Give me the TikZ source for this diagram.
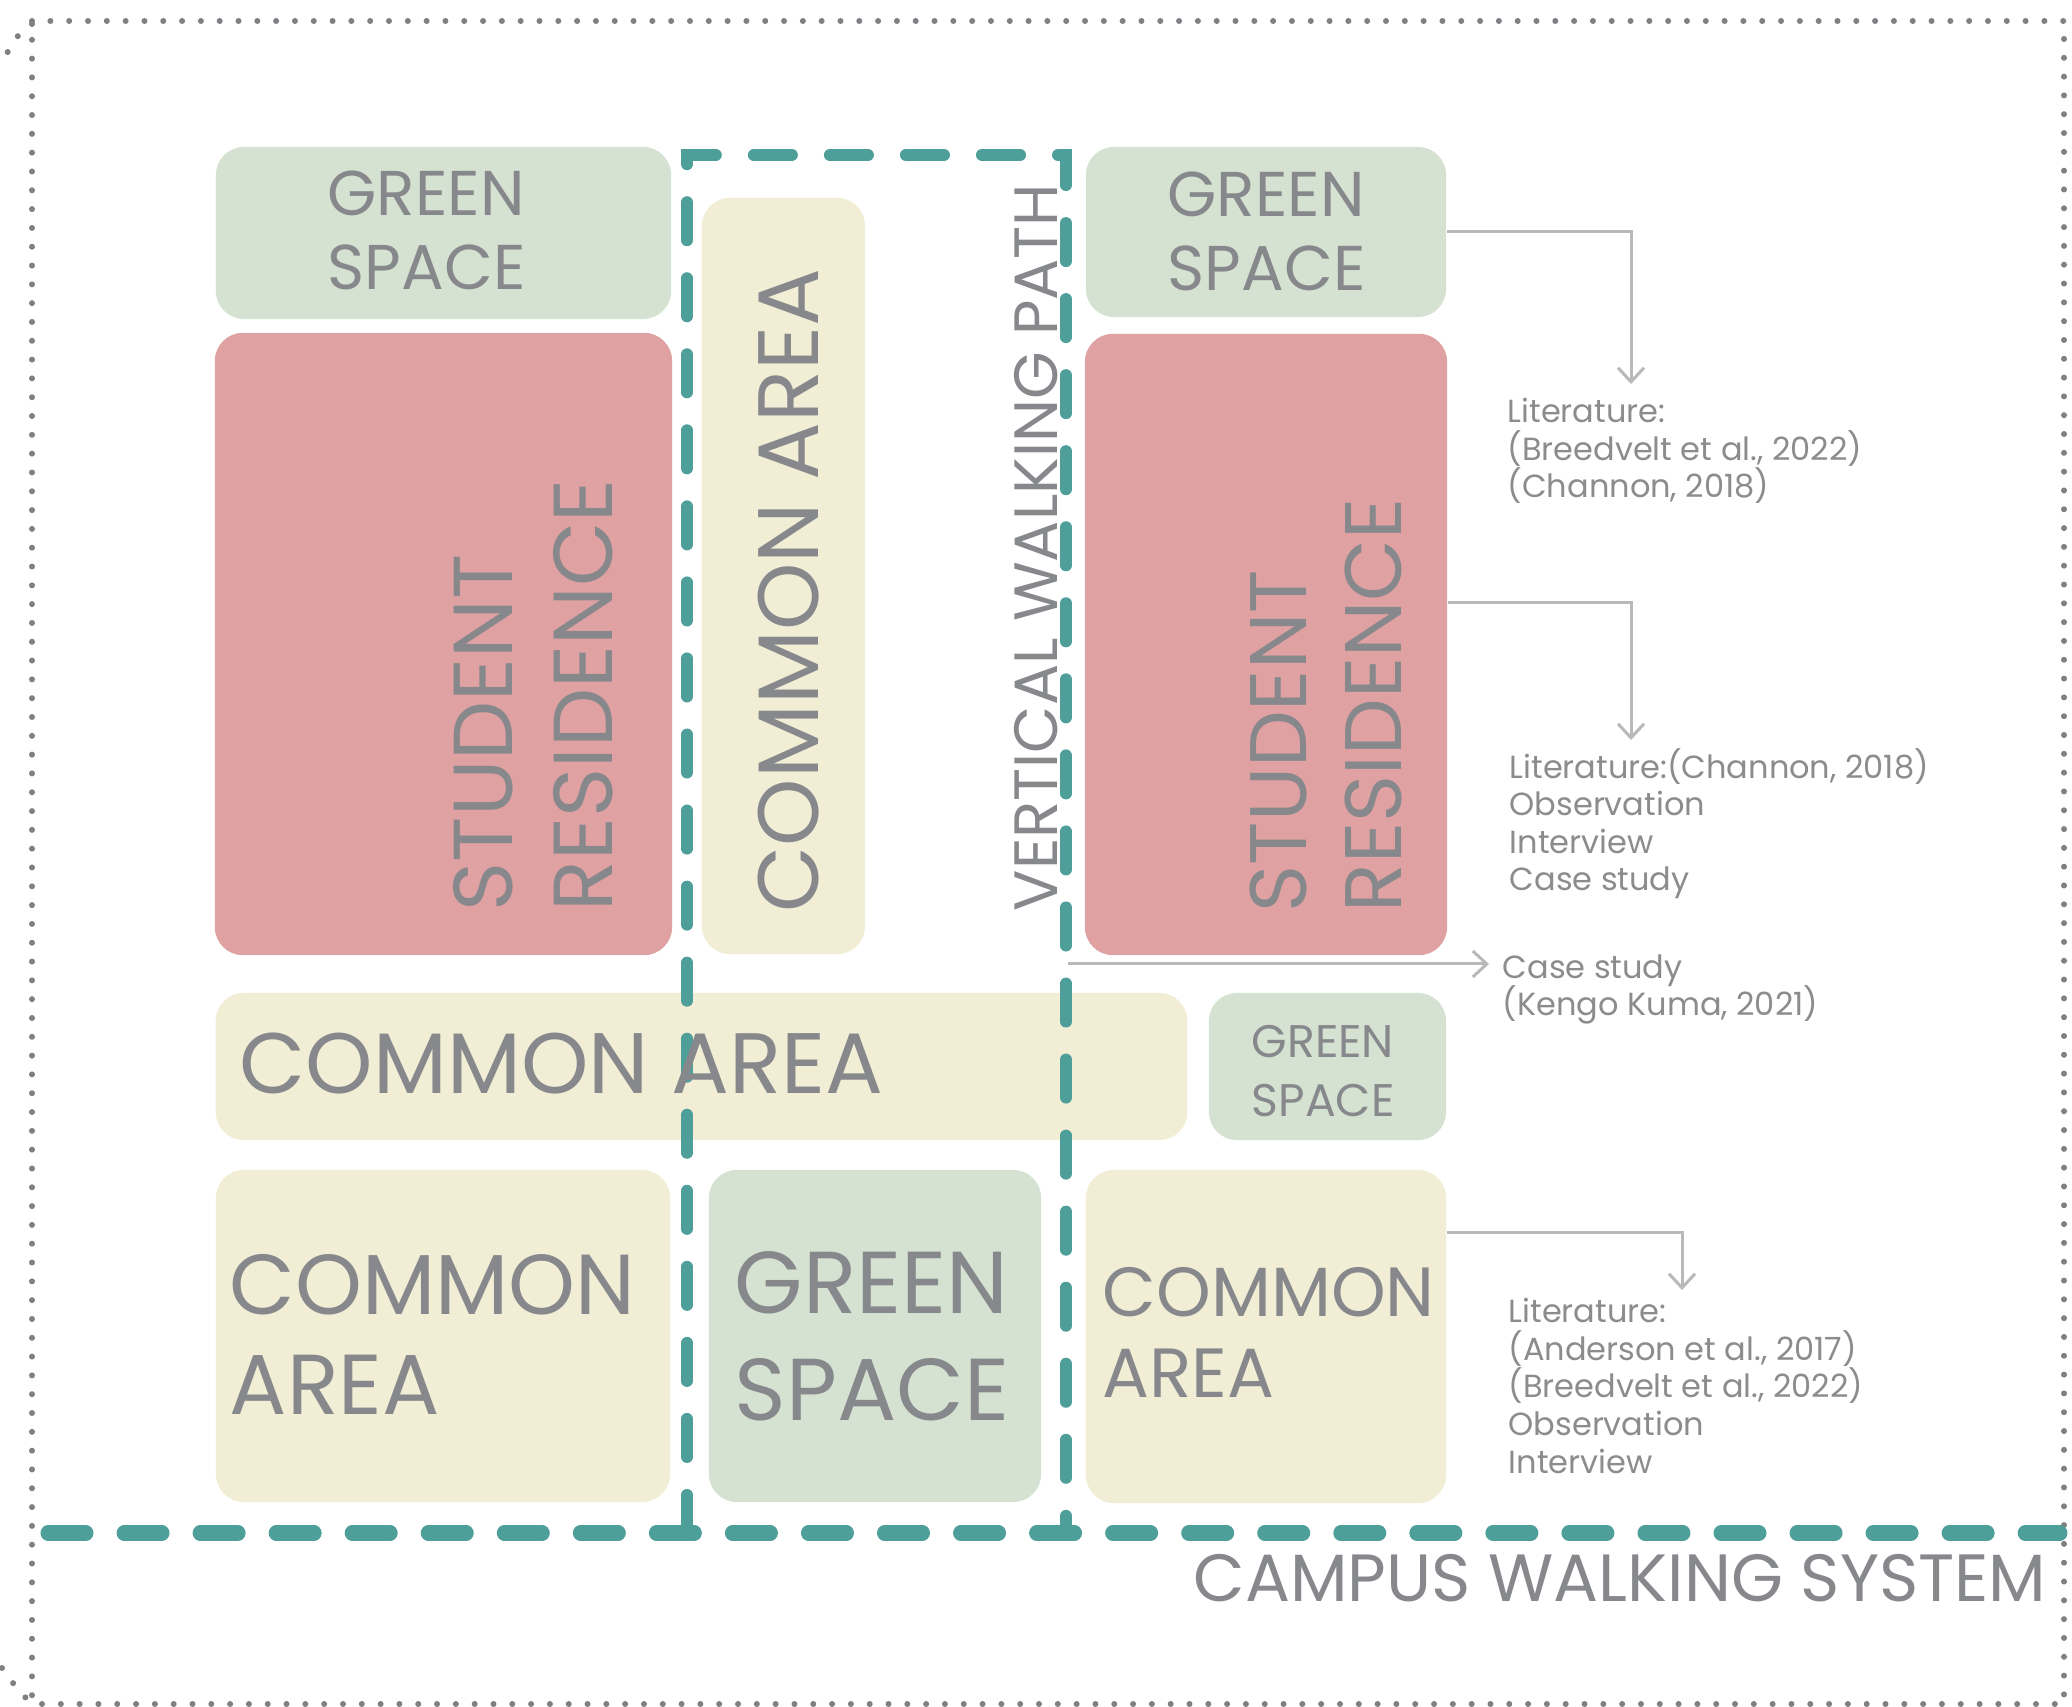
\documentclass[tikz,border=0pt]{standalone}
\usepackage{fontspec}
\setmainfont{Poppins}
\usetikzlibrary{positioning,arrows.meta,calc}
\definecolor{labelgray}{RGB}{135,136,140}
\definecolor{notegray}{RGB}{140,140,143}
\definecolor{framegray}{RGB}{128,128,132}
\definecolor{arrowgray}{RGB}{185,185,187}
\definecolor{pathteal}{RGB}{78,159,153}
\definecolor{greenfill}{RGB}{213,226,209}
\definecolor{residfill}{RGB}{223,161,162}
\definecolor{commonfill}{RGB}{242,237,213}
\newcommand{\notefont}{\fontsize{9.1}{10.67}\selectfont\lineskiplimit=-10pt\relax}

\tikzset{
  zone/.style={rectangle, rounded corners=0.28cm, inner sep=0pt},
  greenzone/.style={zone, fill=greenfill},
  residzone/.style={zone, fill=residfill},
  commonzone/.style={zone, fill=commonfill},
  zonetext/.style={text=labelgray, align=left, inner sep=0pt, anchor=base west},
  notetext/.style={text=notegray, align=left, inner sep=0pt, anchor=base west, font=\notefont},
  walkline/.style={pathteal, line cap=round, dash pattern=on 0.38cm off 0.38cm},
  linkarrow/.style={arrowgray, line width=0.03cm, -{Straight Barb[length=0.14cm,width=0.26cm]}},
  dotframe/.style={framegray, line width=0.06cm, line cap=round, dash pattern=on 0pt off 0.188cm}
}

\begin{document}
\begin{tikzpicture}[x=0.01cm, y=-0.01cm]
            \fill[white] (0,0) rectangle (2072,1707);
            \useasboundingbox (0,0) rectangle (2072,1707);

            % Campus frame
            \draw[dotframe] (32,21) rectangle (2064,1704);
            \draw[dotframe] (32,24) .. controls (18,34) .. (2,62);
            \draw[dotframe] (2,1668) .. controls (18,1690) .. (32,1704);

            % Left column
            \node[greenzone, minimum width=4.55cm, minimum height=1.72cm] (gsTL) at (443.5,233) {};
            \node[residzone, minimum width=4.57cm, minimum height=6.22cm] (rsL) at (443.5,644) {};
            \node[commonzone, minimum width=1.63cm, minimum height=7.56cm] (caM) at (783.5,576) {};

            % Right column
            \node[greenzone, minimum width=3.60cm, minimum height=1.70cm] (gsTR) at (1266,232) {};
            \node[residzone, minimum width=3.62cm, minimum height=6.21cm] (rsR) at (1266,644.5) {};

            % Middle band
            \node[commonzone, minimum width=9.71cm, minimum height=1.47cm] (caW) at (701.5,1066.5) {};
            \node[greenzone, minimum width=2.37cm, minimum height=1.47cm] (gsSR) at (1327.5,1066.5) {};

            % Bottom row
            \node[commonzone, minimum width=4.54cm, minimum height=3.32cm] (caBL) at (443,1336) {};
            \node[greenzone, minimum width=3.32cm, minimum height=3.32cm] (gsBM) at (875,1336) {};
            \node[commonzone, minimum width=3.60cm, minimum height=3.33cm] (caBR) at (1266,1336.5) {};

            % Walking paths
            \draw[walkline, line width=0.12cm] (687,1533) -- (687,155) -- (1066,155) -- (1066,1533);
            \draw[walkline, line width=0.15cm] (48,1533) -- (2060,1533);

            % Zone labels (anchored on the last line)
            \node[zonetext, font=\fontsize{18}{21.3}\selectfont] (gsTLtext) at (327,290) {GREEN\\SPACE};
            \node[zonetext, font=\fontsize{18}{21.3}\selectfont] (gsTRtext) at (1167,291) {GREEN\\SPACE};
            \node[zonetext, rotate=90, font=\fontsize{23.8}{28.4}\selectfont] (rsLtext) at (612,912) {STUDENT\\RESIDENCE};
            \node[zonetext, rotate=90, font=\fontsize{22.8}{27}\selectfont] (rsRtext) at (1401,913) {STUDENT\\RESIDENCE};
            \node[zonetext, rotate=90, font=\fontsize{24.4}{28.4}\selectfont] (caMtext) at (818,913) {COMMON AREA};
            \node[zonetext, rotate=90, font=\fontsize{17.4}{20}\selectfont] (pathtext) at (1057,912) {VERTICAL WALKING PATH};
            \node[zonetext, font=\fontsize{24.4}{28.4}\selectfont] (caWtext) at (239,1094) {COMMON AREA};
            \node[zonetext, font=\fontsize{13}{17}\selectfont] (gsSRtext) at (1251,1117) {GREEN\\SPACE};
            \node[zonetext, font=\fontsize{24.2}{28.2}\selectfont] (caBLtext) at (229,1414) {COMMON\\AREA};
            \node[zonetext, font=\fontsize{25}{30.2}\selectfont] (gsBMtext) at (734,1420) {GREEN\\SPACE};
            \node[zonetext, font=\fontsize{19.8}{22.8}\selectfont] (caBRtext) at (1102,1397) {COMMON\\AREA};
            \node[zonetext, anchor=base east, font=\fontsize{19}{22}\selectfont] (campustext) at (2047,1601) {CAMPUS WALKING SYSTEM};

            % Method notes (anchored on the last line)
            \node[notetext] (noteGS) at (1507,498) {Literature:\\(Breedvelt et al., 2022)\\(Channon, 2018)};
            \node[notetext] (noteRS) at (1509,891) {Literature:(Channon, 2018)\\Observation\\Interview\\Case study};
            \node[notetext] (notePath) at (1502,1016) {Case study\\(Kengo Kuma, 2021)};
            \node[notetext] (noteCA) at (1508,1473) {Literature:\\(Anderson et al., 2017)\\(Breedvelt et al., 2022)\\Observation\\Interview};

            % Links to notes
            \coordinate (tipGS) at (1631,384);
            \coordinate (tipRS) at (1631,740);
            \coordinate (pathTap) at (1068,964);
            \coordinate (tipPath) at (1489,964);
            \coordinate (tipCA) at (1682,1290);
            \draw[linkarrow] (gsTR.east) -| (tipGS);
            \draw[linkarrow] ($(rsR.north east)!0.433!(rsR.south east)$) -| (tipRS);
            \draw[linkarrow] (pathTap) -- (tipPath);
            \draw[linkarrow] ($(caBR.north east)!0.19!(caBR.south east)$) -| (tipCA);
        \end{tikzpicture}
\end{document}
